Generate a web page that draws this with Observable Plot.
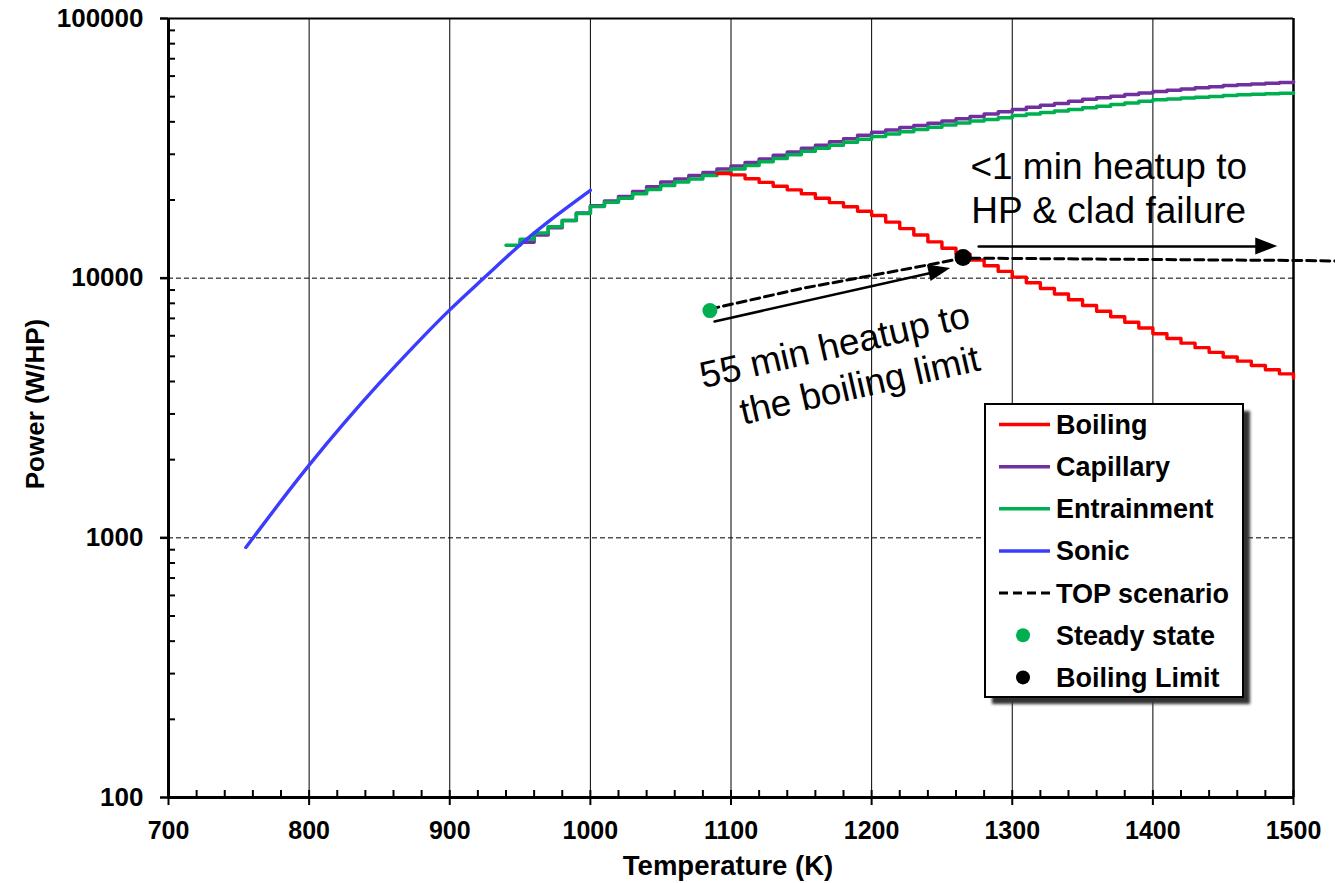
<!DOCTYPE html>
<html><head><meta charset="utf-8">
<script src="https://cdn.jsdelivr.net/npm/d3@7"></script>
<script src="https://cdn.jsdelivr.net/npm/@observablehq/plot@0.6"></script>
<style>html,body{margin:0;padding:0;background:#fff;overflow:hidden}#chart{width:1335px;height:883px}</style>
</head><body><div id="chart"></div>
<script>
// ---------- data ----------
const sonicT = [755, 777, 800, 825, 850, 875, 900, 925, 950, 975, 1000];
const sonicP = [918, 1320, 1905, 2770, 3940, 5500, 7550, 10100, 13430, 17300, 21800];

const capillaryT = [950,960,970,980,990,1000,1010,1020,1030,1040,1050,1060,1070,1080,1090,1100,1110,1120,1130,1140,1150,1160,1170,1180,1190,1200,1210,1220,1230,1240,1250,1260,1270,1280,1290,1300,1310,1320,1330,1340,1350,1360,1370,1380,1390,1400,1410,1420,1430,1440,1450,1460,1470,1480,1490,1500];
const capillaryP = [13740,14660,15630,16670,17820,19010,19820,20650,21580,22490,23440,24100,24830,25530,26300,27040,27920,28770,29720,30620,31620,32510,33500,34440,35480,36480,37240,38020,38730,39540,40270,41110,41980,42850,43750,44670,45500,46350,47100,47970,48870,49550,50230,50930,51640,52360,52970,53460,54080,54580,55210,55590,55980,56360,56750,57150];

const entrainmentT = [940,950,960,970,980,990,1000,1010,1020,1030,1040,1050,1060,1070,1080,1090,1100,1110,1120,1130,1140,1150,1160,1170,1180,1190,1200,1210,1220,1230,1240,1250,1260,1270,1280,1290,1300,1310,1320,1330,1340,1350,1360,1370,1380,1390,1400,1410,1420,1430,1440,1450,1460,1470,1480,1490,1500];
const entrainmentP = [13400,14130,14930,15780,16670,17740,18880,19590,20320,21130,21930,22750,23440,24100,24830,25530,26300,27160,28050,28910,29850,30830,31620,32510,33340,34280,35160,35890,36640,37410,38110,38900,39630,40270,40830,41500,42270,42850,43450,44060,44670,45290,45920,46670,47320,47970,48640,48980,49430,49770,50120,50470,50820,51050,51290,51520,51760];

const boilingT = [1090,1100,1110,1120,1130,1140,1150,1160,1170,1180,1190,1200,1210,1220,1230,1240,1250,1260,1270,1280,1290,1300,1310,1320,1330,1340,1350,1360,1370,1380,1390,1400,1410,1420,1430,1440,1450,1460,1470,1480,1490,1500];
const boilingP = [25300,25000,24150,23380,22600,21880,21130,20320,19540,18840,18110,17420,16440,15520,14660,13800,13030,12360,11750,11170,10620,10090,9600,9120,8690,8260,7850,7460,7100,6760,6430,6110,5860,5620,5400,5180,4970,4790,4610,4440,4280,4120];

const topT = [1085, 1150, 1200, 1242, 1265, 1400, 1500, 1530];
const topP = [7600, 9120, 10240, 11290, 11950, 11800, 11700, 11650];

const steadyT = [1085], steadyP = [7500];
const limitT = [1265], limitP = [12000];

// axes
const xTicks = [700, 800, 900, 1000, 1100, 1200, 1300, 1400, 1500];
const xGrid = [800, 900, 1000, 1100, 1200, 1300, 1400];
const xMinor = [720,740,760,780,820,840,860,880,920,940,960,980,1020,1040,1060,1080,1120,1140,1160,1180,1220,1240,1260,1280,1320,1340,1360,1380,1420,1440,1460,1480];
const yTicks = [100, 1000, 10000, 100000];
const yTickLabels = ["100", "1000", "10000", "100000"];
const yGrid = [1000, 10000];
const yMinor = [200,300,400,500,600,700,800,900,2000,3000,4000,5000,6000,7000,8000,9000,20000,30000,40000,50000,60000,70000,80000,90000];
const xTitle = "Temperature (K)";
const yTitle = "Power (W/HP)";

// annotations
const anno1Text = ["<1 min heatup to\nHP & clad failure"], anno1T = [1368.6], anno1P = [22540];
const anno2Text = ["55 min heatup to\nthe boiling limit"], anno2T = [1272.5], anno2P = [6067];
const arrowT1 = [1088.3, 1276.1], arrowP1 = [6810, 13240];
const arrowT2 = [1256.2, 1488.8], arrowP2 = [10900, 13240];

// legend
const legendLabels = ["Boiling", "Capillary", "Entrainment", "Sonic", "TOP scenario", "Steady state", "Boiling Limit"];
const legendColors = ["#ff0000", "#7030a0", "#00b050", "#3c3cff", "#000000", "#00b050", "#000000"];
const legendKinds = ["line", "line", "line", "line", "dash", "dot", "dot"];

// ---------- chart ----------
const rows = (T, P) => T.map((t, i) => ({T: t, P: P[i]}));
const FONT = '"Liberation Sans", Arial, Helvetica, sans-serif';
const arrows = arrowT1.map((t, i) => ({x1: t, y1: arrowP1[i], x2: arrowT2[i], y2: arrowP2[i]}));

const plot = Plot.plot({
  width: 1335, height: 883,
  marginLeft: 168, marginRight: 42, marginTop: 18, marginBottom: 86,
  style: {fontFamily: FONT, fontSize: "26px", background: "#fff", overflow: "visible", color: "#000"},
  x: {type: "linear", domain: [700, 1500], axis: null},
  y: {type: "log", domain: [100, 100000], axis: null},
  marks: [
    Plot.ruleX(xGrid, {stroke: "#000", strokeWidth: 1}),
    Plot.ruleY(yGrid, {stroke: "#000", strokeWidth: 1, strokeDasharray: "5,3"}),
    Plot.ruleY([100000], {stroke: "#000", strokeWidth: 2}),
    Plot.ruleX([1500], {stroke: "#000", strokeWidth: 2.5}),
    Plot.line(rows(capillaryT, capillaryP), {x: "T", y: "P", curve: "step-after", stroke: "#7030a0", strokeWidth: 3.5}),
    Plot.line(rows(entrainmentT, entrainmentP), {x: "T", y: "P", curve: "step-after", stroke: "#00b050", strokeWidth: 3.5}),
    Plot.line(rows(boilingT, boilingP), {x: "T", y: "P", curve: "step-after", stroke: "#ff0000", strokeWidth: 3.4}),
    Plot.line(rows(sonicT, sonicP), {x: "T", y: "P", curve: "natural", stroke: "#3c3cff", strokeWidth: 3.4}),
    Plot.line(rows(topT, topP), {x: "T", y: "P", stroke: "#000", strokeWidth: 3, strokeDasharray: "9,5"}),
    Plot.dot(rows(steadyT, steadyP), {x: "T", y: "P", r: 7.5, fill: "#00b050", stroke: "none"}),
    Plot.dot(rows(limitT, limitP), {x: "T", y: "P", r: 8.5, fill: "#000", stroke: "none"}),
    Plot.arrow(arrows, {x1: "x1", y1: "y1", x2: "x2", y2: "y2", stroke: "#000", strokeWidth: 2.5, headLength: 0, insetEnd: 16, ariaLabel: "annoarrow"}),
    // axes
    Plot.ruleX([700], {stroke: "#000", strokeWidth: 3}),
    Plot.ruleY([100], {stroke: "#000", strokeWidth: 3}),
    Plot.ruleY(yTicks, {x1: 700, x2: 700, insetLeft: -8, stroke: "#000", strokeWidth: 2.5}),
    Plot.ruleY(yMinor, {x1: 700, x2: 700, insetRight: -7, stroke: "#000", strokeWidth: 2}),
    Plot.ruleX(xTicks, {y1: 100, y2: 100, insetTop: -7, insetBottom: -8, stroke: "#000", strokeWidth: 2}),
    Plot.ruleX(xMinor, {y1: 100, y2: 100, insetTop: -7, stroke: "#000", strokeWidth: 2}),
    Plot.text(yTicks, {x: 700, y: d => d, text: (d, i) => yTickLabels[i], textAnchor: "end", lineAnchor: "middle", dx: -25, fontWeight: "bold", fontSize: 26, fill: "#000"}),
    Plot.text(xTicks, {x: d => d, y: 100, text: d => String(d), textAnchor: "middle", lineAnchor: "middle", dy: 33, fontWeight: "bold", fontSize: 25, fill: "#000"}),
    Plot.text([xTitle], {frameAnchor: "bottom", text: d => d, textAnchor: "middle", lineAnchor: "middle", dy: 69, dx: -3, fontWeight: "bold", fontSize: 27.5, fill: "#000"}),
    Plot.text([yTitle], {frameAnchor: "left", text: d => d, textAnchor: "middle", lineAnchor: "middle", dx: -133, dy: -4, rotate: -90, fontWeight: "bold", fontSize: 26, fill: "#000"}),
    Plot.text(anno1Text, {x: anno1T, y: anno1P, text: d => d, fontSize: 37, lineHeight: 1.2, fill: "#000", ariaLabel: "annotation"}),
    Plot.text(anno2Text, {x: anno2T, y: anno2P, text: d => d, fontSize: 37, lineHeight: 1.2, textAnchor: "end", rotate: -12.9, fill: "#000", ariaLabel: "annotation"})
  ]
});
document.getElementById("chart").appendChild(plot);

// ---------- post: white boxes behind annotation text, arrow heads, legend ----------
const svg = d3.select(plot);
const ns = "http://www.w3.org/2000/svg";
const firstLine = plot.querySelector('g[aria-label="line"]');
const boxG = document.createElementNS(ns, "g");
plot.insertBefore(boxG, firstLine);
plot.querySelectorAll('g[aria-label="annotation"]').forEach(g => {
  const gt = g.getAttribute("transform") || "";
  g.querySelectorAll("text").forEach(t => {
    const b = t.getBBox();
    const pad = 8;
    const r = document.createElementNS(ns, "rect");
    r.setAttribute("x", b.x - pad); r.setAttribute("y", b.y - pad + 2);
    r.setAttribute("width", b.width + 2 * pad); r.setAttribute("height", b.height + 2 * pad - 4);
    r.setAttribute("fill", "#fff");
    r.setAttribute("transform", gt + " " + (t.getAttribute("transform") || ""));
    boxG.appendChild(r);
  });
});

const sx = plot.scale("x"), sy = plot.scale("y");
const headG = svg.append("g");
arrows.forEach(a => {
  const x1 = sx.apply(a.x1), y1 = sy.apply(a.y1), x2 = sx.apply(a.x2), y2 = sy.apply(a.y2);
  const dx = x2 - x1, dy = y2 - y1, L = Math.hypot(dx, dy), ux = dx / L, uy = dy / L;
  const len = 22, hw = 8.5, bx = x2 - ux * len, by = y2 - uy * len;
  headG.append("polygon")
    .attr("points", [[x2, y2], [bx - uy * hw, by + ux * hw], [bx + uy * hw, by - ux * hw]].map(p => p.join(",")).join(" "))
    .attr("fill", "#000");
});

// legend
const defs = svg.append("defs");
defs.append("filter").attr("id", "blur").attr("x", "-10%").attr("y", "-10%").attr("width", "130%").attr("height", "130%")
  .append("feGaussianBlur").attr("stdDeviation", 1.6);
const lg = svg.append("g").attr("font-family", FONT).attr("text-anchor", "start");
const bx0 = 985, by0 = 404, bw = 258, bh = 293;
lg.append("rect").attr("x", bx0 + 7).attr("y", by0 + 7).attr("width", bw).attr("height", bh).attr("fill", "#333").attr("filter", "url(#blur)");
lg.append("rect").attr("x", bx0).attr("y", by0).attr("width", bw).attr("height", bh).attr("fill", "#fff").attr("stroke", "#000").attr("stroke-width", 2);
legendLabels.forEach((lab, i) => {
  const cy = 424.5 + i * 42.15;
  const k = legendKinds[i];
  if (k === "line" || k === "dash") {
    lg.append("line").attr("x1", 999).attr("x2", 1050).attr("y1", cy).attr("y2", cy)
      .attr("stroke", legendColors[i]).attr("stroke-width", k === "dash" ? 3 : 3.5)
      .attr("stroke-dasharray", k === "dash" ? "9,5" : null);
  } else {
    lg.append("circle").attr("cx", 1023).attr("cy", cy).attr("r", 7).attr("fill", legendColors[i]);
  }
  lg.append("text").attr("x", 1056).attr("y", cy).attr("dy", "0.35em").attr("text-anchor", "start")
    .attr("font-size", 27).attr("font-weight", "bold").attr("fill", "#000").text(lab);
});
</script>
</body></html>
